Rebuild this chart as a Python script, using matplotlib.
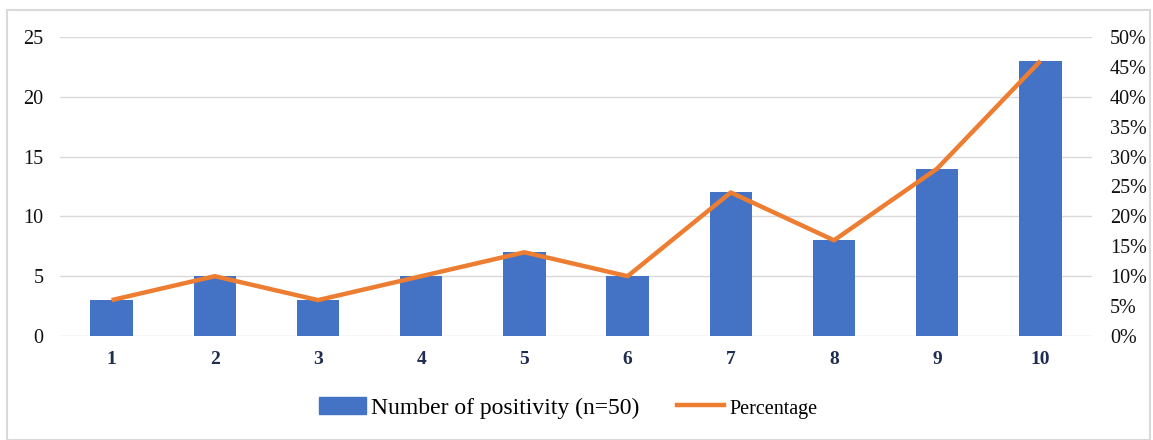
import matplotlib.pyplot as plt
from matplotlib.patches import Rectangle
from matplotlib.lines import Line2D
from matplotlib.ticker import FuncFormatter
import numpy as np

categories = ['1', '2', '3', '4', '5', '6', '7', '8', '9', '10']
positives = [3, 5, 3, 5, 7, 5, 12, 8, 14, 23]
percentage = [6, 10, 6, 10, 14, 10, 24, 16, 28, 46]

plt.rcParams['font.family'] = ['Liberation Serif', 'DejaVu Serif']

fig = plt.figure(figsize=(11.53, 4.4), dpi=100)
fig.patches.append(Rectangle((7 / 1153, 0), 1143 / 1153, 430 / 440,
                             transform=fig.transFigure, fill=False,
                             edgecolor='#d9d9d9', linewidth=1.5))

ax = fig.add_axes([60 / 1153, 1 - 336 / 440, 1032 / 1153, 299 / 440])
x = np.arange(len(categories))
ax.bar(x, positives, width=0.41, color='#4472C4', zorder=2)
ax.set_xlim(-0.5, len(categories) - 0.5)
ax.set_ylim(0, 25)
ax.set_yticks(range(0, 26, 5))
ax.grid(axis='y', color='#d9d9d9', linewidth=1, zorder=0)
for s in ax.spines.values():
    s.set_visible(False)
ax.tick_params(axis='both', length=0)
ax.tick_params(axis='y', labelsize=14.5, pad=12, labelcolor='#111111')
ax.set_xticks(x)
ax.set_xticklabels(categories, fontsize=14, fontweight='bold', color='#1f2d50')
ax.tick_params(axis='x', pad=11)

# percentage line on the right axis
ax2 = ax.twinx()
ax2.plot(x, percentage, color='#ED7D31', linewidth=3.2, zorder=3,
         solid_capstyle='butt')
ax2.set_ylim(0, 50)
ax2.set_yticks(range(0, 51, 5))
ax2.yaxis.set_major_formatter(FuncFormatter(lambda v, p: f'{int(v)}%'))
for s in ax2.spines.values():
    s.set_visible(False)
ax2.tick_params(axis='y', length=0, labelsize=14.5, pad=13, labelcolor='#111111')

handles = [Rectangle((0, 0), 1, 1, color='#4472C4'),
           Line2D([0], [0], color='#ED7D31', linewidth=3.2)]
leg = fig.legend(handles, ['Number of positivity (n=50)', 'Percentage'],
                 loc='center', bbox_to_anchor=(568 / 1153, 1 - 408 / 440),
                 ncol=2, frameon=False, handlelength=2.0, handletextpad=0.2,
                 columnspacing=1.6, fontsize=17)
leg.get_texts()[1].set_fontsize(14.5)

fig.savefig('out.png', dpi=100)
